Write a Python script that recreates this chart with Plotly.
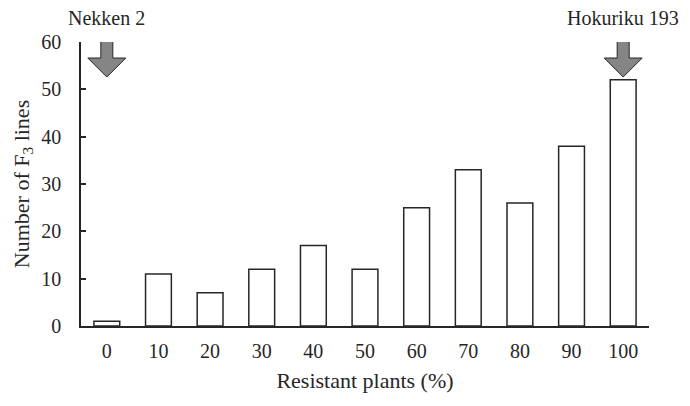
import plotly.graph_objects as go

categories = ["0", "10", "20", "30", "40", "50", "60", "70", "80", "90", "100"]
counts = [1, 11, 7, 12, 17, 12, 25, 33, 26, 38, 52]
parents = [("Nekken 2", "0"), ("Hokuriku 193", "100")]

FONT = "Liberation Serif"
INK = "#262626"

fig = go.Figure()
fig.add_trace(
    go.Bar(
        x=categories,
        y=counts,
        marker=dict(color="white", line=dict(color=INK, width=1.5)),
        width=0.5,
    )
)

# down arrows over the parent lines (path in pixels relative to the tip)
arrow = "M0,0 L-19,19 L-6,19 L-6,40 L6,40 L6,19 L19,19 Z"
for name, cat in parents:
    idx = categories.index(cat)
    fig.add_shape(
        type="path",
        xref="x", yref="y",
        xsizemode="pixel", ysizemode="pixel",
        xanchor=idx, yanchor=52.6,
        path=arrow,
        fillcolor="#858585",
        line=dict(color=INK, width=1),
    )
    fig.add_annotation(
        x=idx, y=1 + 24 / 284, xref="x", yref="paper",
        xanchor="center", yanchor="middle",
        text=name, showarrow=False,
        font=dict(family=FONT, size=20, color=INK),
    )

fig.update_layout(
    width=682, height=398,
    margin=dict(l=69, r=41, t=34, b=80),
    paper_bgcolor="white", plot_bgcolor="white",
    showlegend=False,
    font=dict(family=FONT, size=18, color=INK),
)
fig.update_xaxes(
    title=dict(text="Resistant plants (%)", standoff=12),
    tickfont=dict(size=20),
    showline=True, linecolor=INK, linewidth=1.5,
    ticks="", showgrid=False, range=[-0.5, 10.5],
    ticklabelstandoff=6,
)
fig.update_yaxes(
    title=dict(text="Number of F<sub>3</sub> lines", standoff=6),
    tickfont=dict(size=20),
    showline=True, linecolor=INK, linewidth=1.5,
    ticks="inside", ticklen=5, tickcolor=INK, tickwidth=1.5,
    showgrid=False, zeroline=False, range=[0, 60], dtick=10,
    ticklabelstandoff=14,
)

fig.write_html("out.html")
